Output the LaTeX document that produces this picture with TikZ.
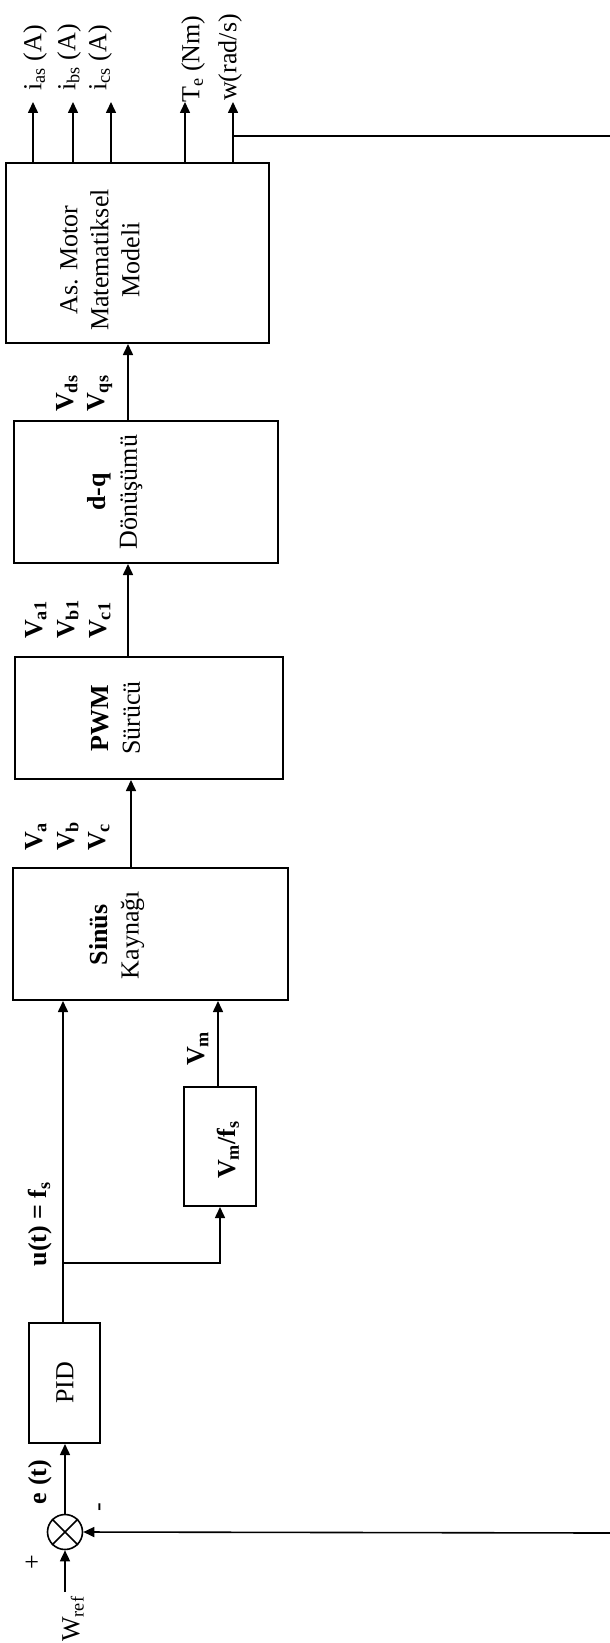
\documentclass[tikz,border=0pt]{standalone}
\usepackage{fontspec}
\setmainfont{Liberation Serif}
\usetikzlibrary{arrows.meta}
\begin{document}
\begin{tikzpicture}[x=1pt,y=-1pt,
  every node/.style={font=\fontsize{26}{31}\selectfont},
  blk/.style={draw,line width=2pt,rectangle,inner sep=0pt},
  rtxt/.style={rotate=90,align=center,inner sep=0pt},
  lbl/.style={rotate=90,inner sep=0pt,anchor=west},
  wire/.style={line width=1.6pt},
  arr/.style={line width=1.6pt,-{Triangle[length=11pt,width=10pt]}}]
\useasboundingbox (0,0) rectangle (610,1643);
% blocks
\node[blk,minimum width=263pt,minimum height=180pt] (motor) at (137.5,253) {};
\node[blk,minimum width=264pt,minimum height=142pt] (dq) at (146,492) {};
\node[blk,minimum width=268pt,minimum height=122pt] (pwm) at (149,718) {};
\node[blk,minimum width=275pt,minimum height=132pt] (sin) at (150.5,934) {};
\node[blk,minimum width=72pt,minimum height=119pt] (vmf) at (220,1146.5) {};
\node[blk,minimum width=71pt,minimum height=120pt] (pid) at (64.5,1383) {};
\node[draw,circle,line width=1.6pt,minimum size=35pt,inner sep=0pt] (sum) at (65,1532) {};
\draw[wire] (sum.north west) -- (sum.south east) (sum.north east) -- (sum.south west);
% block texts
\node[rtxt] (tmotor) at (100,260) {As. Motor\\Matematiksel\\Modeli};
\node[rtxt] (tdq) at (115,492) {\textbf{d-q}\\Dönüşümü};
\node[rtxt] (tpwm) at (116,718) {\textbf{PWM}\\Sürücü};
\node[rtxt] (tsin) at (117,935) {\textbf{Sinüs}\\Kaynağı};
\node[rtxt] (tvmf) at (228,1150) {\textbf{V\textsubscript{m}/f\textsubscript{s}}};
\node[rtxt] (tpid) at (65,1383) {PID};
% output coordinates
\coordinate (ia) at (33,102);
\coordinate (ib) at (73,102);
\coordinate (ic) at (111,102);
\coordinate (te) at (185,102);
\coordinate (wo) at (233,102);
\coordinate (fbT) at (233,136);
\coordinate (edgeT) at (610,136);
\coordinate (edgeB) at (610,1533);
\coordinate (br) at (63,1263);
\coordinate (brR) at (220,1263);
\coordinate (wref) at (65,1592);
% output arrows
\draw[arr] (ia |- motor.north) -- (ia);
\draw[arr] (ib |- motor.north) -- (ib);
\draw[arr] (ic |- motor.north) -- (ic);
\draw[arr] (te |- motor.north) -- (te);
\draw[arr] (wo |- motor.north) -- (wo);
\draw[wire] (fbT) -- (edgeT);
% chain
\draw[arr] (dq.north -| 128,0) -- (motor.south -| 128,0);
\draw[arr] (pwm.north -| 128,0) -- (dq.south -| 128,0);
\draw[arr] (sin.north -| 131,0) -- (pwm.south -| 131,0);
\draw[arr] (pid.north -| 63,0) -- (sin.south -| 63,0);
\draw[arr] (br) -- (brR) -- (vmf.south -| brR);
\draw[arr] (vmf.north -| 218,0) -- (sin.south -| 218,0);
\draw[arr] (sum.north) -- (pid.south -| sum.north);
\draw[arr] (wref) -- (sum.south);
\draw[arr] (edgeB) -- (sum.east);
% labels
\node[lbl] (lia) at (35,91) {i\textsubscript{as} (A)};
\node[lbl] (lib) at (69,91) {i\textsubscript{bs} (A)};
\node[lbl] (lic) at (100,91) {i\textsubscript{cs} (A)};
\node[lbl] (lte) at (193,103) {T\textsubscript{e} (Nm)};
\node[lbl] (lw) at (230,101) {w(rad/s)};
\node[lbl] (lvds) at (67,412) {\textbf{V\textsubscript{ds}}};
\node[lbl] (lvqs) at (100,412) {\textbf{V\textsubscript{qs}}};
\node[lbl] (lva1) at (36,639) {\textbf{V\textsubscript{a1}}};
\node[lbl] (lvb1) at (68,639) {\textbf{V\textsubscript{b1}}};
\node[lbl] (lvc1) at (100,639) {\textbf{V\textsubscript{c1}}};
\node[lbl] (lva) at (36,851) {\textbf{V\textsubscript{a}}};
\node[lbl] (lvb) at (68,851) {\textbf{V\textsubscript{b}}};
\node[lbl] (lvc) at (99,851) {\textbf{V\textsubscript{c}}};
\node[lbl] (lvm) at (198,1066) {\textbf{V\textsubscript{m}}};
\node[rtxt] (lu) at (40,1224) {\textbf{u(t) = f\textsubscript{s}}};
\node[rtxt] (le) at (40,1482) {\textbf{e (t)}};
\node[rtxt] (lminus) at (102,1507) {-};
\node[rtxt] (lplus) at (33,1562) {+};
\node[rtxt] (lwref) at (73,1619) {W\textsubscript{ref}};
\end{tikzpicture}
\end{document}
